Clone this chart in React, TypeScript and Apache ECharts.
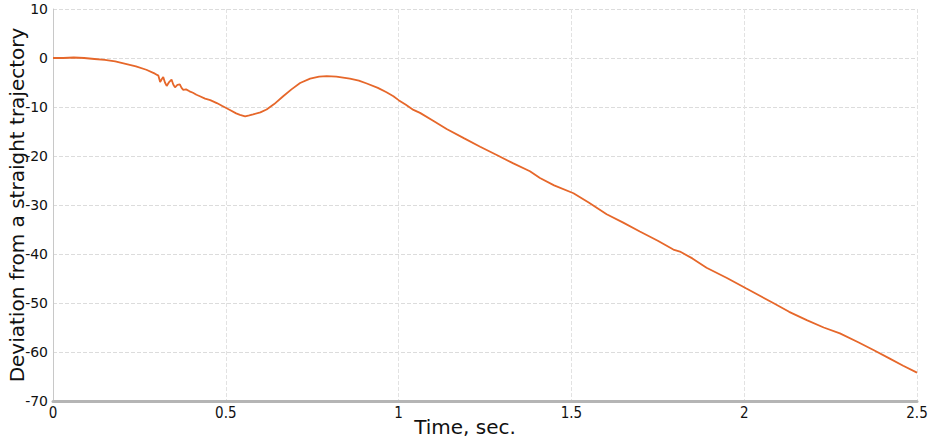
import React, { useEffect, useRef } from "react";
import * as echarts from "echarts";

const timeValues: number[] = [
  0.0, 0.03, 0.06, 0.09, 0.12, 0.15, 0.18, 0.21, 0.24, 0.27, 0.295, 0.305,
  0.31, 0.315, 0.319, 0.324, 0.329, 0.336, 0.343, 0.348, 0.353, 0.36, 0.367,
  0.372, 0.377, 0.385, 0.395, 0.405, 0.415, 0.425, 0.44, 0.455, 0.474, 0.49,
  0.512, 0.53, 0.541, 0.556, 0.568, 0.579, 0.6, 0.618, 0.64, 0.666, 0.69,
  0.715, 0.744, 0.77, 0.792, 0.82, 0.859, 0.885, 0.908, 0.94, 0.965, 0.985,
  1.0, 1.02, 1.043, 1.062, 1.1, 1.139, 1.19, 1.236, 1.284, 1.332, 1.38, 1.409,
  1.45, 1.506, 1.55, 1.602, 1.65, 1.698, 1.75, 1.795, 1.814, 1.85, 1.891, 1.95,
  2.005, 2.084, 2.13, 2.181, 2.23, 2.277, 2.33, 2.374, 2.42, 2.46, 2.5,
];

const deviationValues: number[] = [
  0.0, 0.0, 0.1, 0.0, -0.2, -0.4, -0.7, -1.2, -1.7, -2.4, -3.2, -3.6, -4.9,
  -4.3, -3.9, -5.0, -5.7, -4.9, -4.4, -5.4, -6.0, -5.5, -5.4, -6.1, -6.5, -6.4,
  -6.8, -7.1, -7.5, -7.8, -8.3, -8.6, -9.2, -9.8, -10.6, -11.3, -11.6, -11.9,
  -11.7, -11.5, -11.1, -10.5, -9.4, -7.8, -6.4, -5.1, -4.2, -3.8, -3.7, -3.8,
  -4.2, -4.6, -5.2, -6.1, -7.0, -7.8, -8.6, -9.5, -10.6, -11.2, -12.8, -14.5,
  -16.4, -18.1, -19.8, -21.5, -23.1, -24.5, -26.0, -27.6, -29.5, -31.9, -33.6,
  -35.4, -37.3, -39.1, -39.5, -40.9, -42.8, -44.9, -47.0, -50.0, -51.8, -53.5,
  -55.0, -56.2, -58.0, -59.6, -61.3, -62.8, -64.2,
];

const xAxisTitle = "Time, sec.";
const yAxisTitle = "Deviation from a straight trajectory";

export default function App() {
  const ref = useRef<HTMLDivElement>(null);

  useEffect(() => {
    document.body.style.margin = "0";
    if (!ref.current) return;
    const chart = echarts.init(ref.current, undefined, { renderer: "svg" });
    const data = timeValues.map((t, i) => [t, deviationValues[i]]);
    chart.setOption({
      animation: false,
      backgroundColor: "#ffffff",
      grid: {
        left: 53,
        right: 16,
        top: 9,
        bottom: 42,
        containLabel: false,
        outerBoundsMode: "none",
      },
      xAxis: {
        type: "value",
        min: 0,
        max: 2.5,
        interval: 0.5,
        name: xAxisTitle,
        nameLocation: "middle",
        nameGap: 16,
        nameMoveOverlap: false,
        nameTextStyle: {
          fontFamily: "'DejaVu Sans', sans-serif",
          fontSize: 20,
          color: "#111",
          padding: [0, 40, 0, 0],
        },
        axisLine: { show: true, onZero: false, lineStyle: { color: "#b5b5b5", width: 3 } },
        axisTick: { show: false },
        axisLabel: {
          fontFamily: "'Liberation Sans Narrow', 'DejaVu Sans Condensed', sans-serif",
          fontSize: 15,
          color: "#111",
          margin: 4,
          formatter: (v: number) => String(v),
        },
        splitLine: { show: true, lineStyle: { color: "#e2e2e2", type: "dashed", width: 1 } },
      },
      yAxis: {
        type: "value",
        min: -70,
        max: 10,
        interval: 10,
        name: yAxisTitle,
        nameLocation: "middle",
        nameGap: 26,
        nameMoveOverlap: false,
        nameTextStyle: {
          fontFamily: "'DejaVu Sans', sans-serif",
          fontSize: 20,
          color: "#111",
        },
        axisLine: { show: true, onZero: false, lineStyle: { color: "#c8c8c8", width: 1 } },
        axisTick: { show: false },
        axisLabel: {
          fontFamily: "'DejaVu Sans', sans-serif",
          fontSize: 14,
          color: "#111",
          margin: 5,
        },
        splitLine: { show: true, lineStyle: { color: "#dcdcdc", type: "dashed", width: 1 } },
      },
      series: [
        {
          type: "line",
          data,
          showSymbol: false,
          symbol: "none",
          smooth: false,
          lineStyle: { color: "#e6672a", width: 1.8 },
        },
      ],
    });
    return () => chart.dispose();
  }, []);

  return <div ref={ref} style={{ width: 933, height: 443 }} />;
}
